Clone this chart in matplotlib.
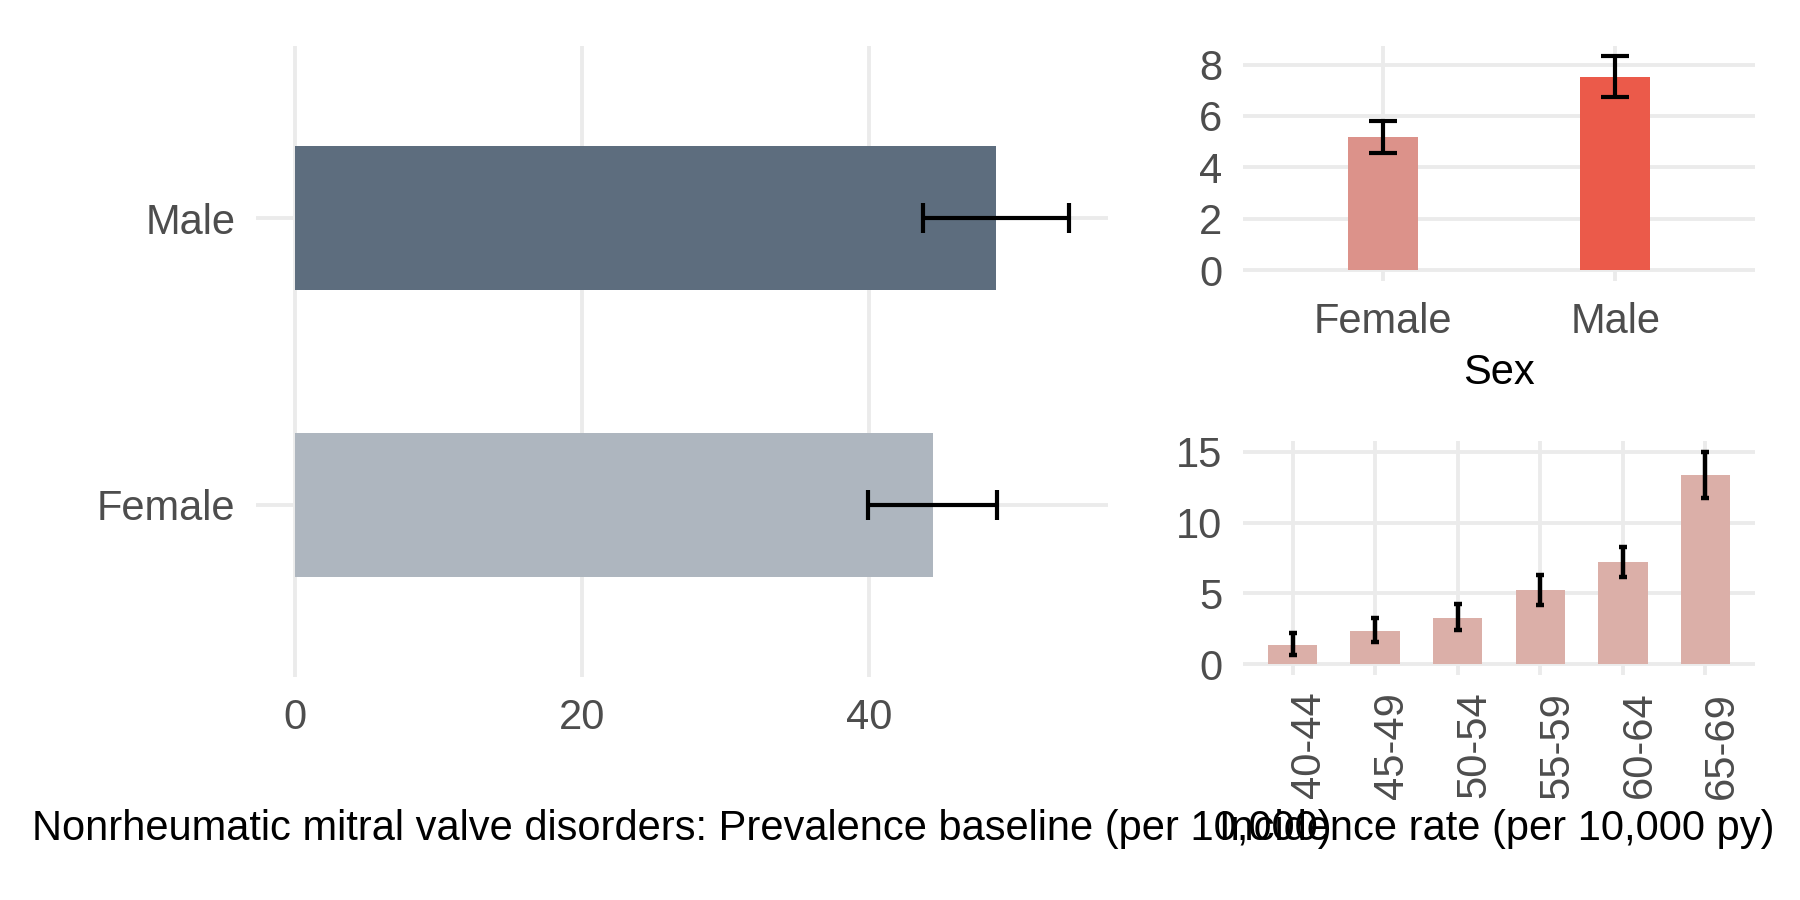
import matplotlib
matplotlib.use("Agg")
import matplotlib.pyplot as plt
import matplotlib.transforms as mtrans
import numpy as np

plt.rcParams['font.family'] = ['Liberation Sans', 'DejaVu Sans']

# ---- data ----
prev_sex = ["Female", "Male"]
prev_val = [44.4, 48.8]
prev_lo = [39.9, 43.7]
prev_hi = [48.9, 53.9]
prev_colors = ["#AEB6BF", "#5D6D7E"]

inc_sex = ["Female", "Male"]
inc_sex_val = [5.17, 7.51]
inc_sex_lo = [4.58, 6.74]
inc_sex_hi = [5.82, 8.35]
inc_sex_colors = ["#DC928A", "#EB5A4A"]

age_groups = ["40-44", "45-49", "50-54", "55-59", "60-64", "65-69"]
age_val = [1.38, 2.37, 3.30, 5.24, 7.20, 13.32]
age_lo = [0.66, 1.55, 2.39, 4.22, 6.17, 11.70]
age_hi = [2.23, 3.25, 4.25, 6.31, 8.27, 15.00]
age_color = "#DBAFA8"

left_title = "Nonrheumatic mitral valve disorders: Prevalence baseline (per 10,000)"
right_title = "Incidence rate (per 10,000 py)"

GRID = "#EBEBEB"
TICK = "#4D4D4D"
FS = 30
W, H = 1800, 900

fig = plt.figure(figsize=(18, 9), dpi=100)

def box(x0, y0, x1, y1):
    return [x0 / W, 1 - y1 / H, (x1 - x0) / W, (y1 - y0) / H]

def style(ax):
    for s in ax.spines.values():
        s.set_visible(False)
    ax.set_axisbelow(True)
    ax.grid(True, color=GRID, linewidth=2.8)
    ax.tick_params(length=0, labelsize=FS, labelcolor=TICK, pad=15)

# ---- left panel ----
ax1 = fig.add_axes(box(256, 46, 1108, 677))
style(ax1)
ypos = np.arange(1, len(prev_sex) + 1)
ax1.barh(ypos, prev_val, height=0.5, color=prev_colors)
v = np.array(prev_val)
ax1.errorbar(v, ypos, xerr=[v - np.array(prev_lo), np.array(prev_hi) - v],
             fmt='none', ecolor='black', elinewidth=3.0, capsize=11, capthick=3.0)
ax1.set_yticks(ypos)
ax1.set_yticklabels(prev_sex)
ax1.set_ylim(0.4, 2.6)
ax1.set_xlim(-2.7, 56.6)
ax1.set_xticks([0, 20, 40])

# ---- top right panel ----
ax2 = fig.add_axes(box(1243, 46, 1755, 281))
style(ax2)
xpos = np.arange(1, len(inc_sex) + 1)
ax2.bar(xpos, inc_sex_val, width=0.3, color=inc_sex_colors)
v2 = np.array(inc_sex_val)
ax2.errorbar(xpos, v2, yerr=[v2 - np.array(inc_sex_lo), np.array(inc_sex_hi) - v2],
             fmt='none', ecolor='black', elinewidth=3.0, capsize=10, capthick=3.0)
ax2.set_xticks(xpos)
ax2.set_xticklabels(inc_sex)
ax2.set_xlim(0.4, 2.6)
ax2.set_ylim(-0.415, 8.72)
ax2.set_yticks([0, 2, 4, 6, 8])
fig.text(1499 / W, 1 - 373 / H, "Sex", ha='center', va='center', fontsize=FS, color='black')

# ---- bottom right panel ----
ax3 = fig.add_axes(box(1243, 441, 1755, 675))
style(ax3)
apos = np.arange(1, len(age_groups) + 1)
ax3.bar(apos, age_val, width=0.6, color=age_color)
v3 = np.array(age_val)
ax3.errorbar(apos, v3, yerr=[v3 - np.array(age_lo), np.array(age_hi) - v3],
             fmt='none', ecolor='black', elinewidth=3.2, capsize=3, capthick=3.2)
ax3.set_xticks(apos)
ax3.set_xticklabels(age_groups, rotation=90, va='top')
ax3.tick_params(axis='x', pad=12)
off = mtrans.ScaledTranslation(12 / 72, 0, fig.dpi_scale_trans)
for lbl in ax3.get_xticklabels():
    lbl.set_transform(lbl.get_transform() + off)
ax3.set_xlim(0.4, 6.6)
ax3.set_ylim(-0.75, 15.75)
ax3.set_yticks([0, 5, 10, 15])

# ---- bottom titles ----
fig.text(682 / W, 1 - 829 / H, left_title, ha='center', va='center', fontsize=FS, color='black')
fig.text(1497 / W, 1 - 829 / H, right_title, ha='center', va='center', fontsize=FS, color='black')

fig.savefig("out.png", dpi=100, facecolor="white")
